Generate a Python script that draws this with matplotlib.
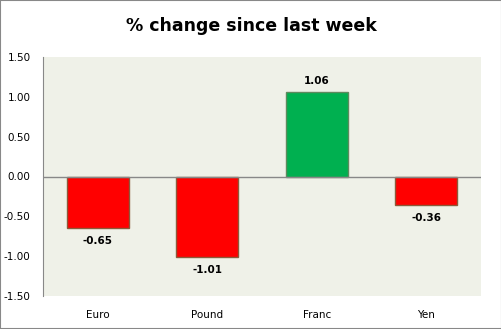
import matplotlib.pyplot as plt
import numpy as np

# data
currencies = ["Euro", "Pound", "Franc", "Yen"]
changes = [-0.65, -1.01, 1.06, -0.36]
yticks = [-1.5, -1.0, -0.5, 0.0, 0.5, 1.0, 1.5]

fig = plt.figure(figsize=(5.02, 3.29), dpi=100)
fig.patch.set_facecolor("white")
ax = fig.add_axes([43 / 502, 33 / 329, 438 / 502, 239 / 329])
ax.set_facecolor("#eff1e8")

x = np.arange(len(currencies))
colors = ["#00b050" if v > 0 else "#ff0000" for v in changes]
edges = ["#5e8a5e" if v > 0 else "#8b5a3a" for v in changes]
ax.bar(x, changes, width=0.57, color=colors, edgecolor=edges, linewidth=1, zorder=3)

for xi, v in zip(x, changes):
    off = 0.08 if v > 0 else -0.1
    ax.text(xi, v + off, f"{v:.2f}", ha="center", va="bottom" if v > 0 else "top",
            fontsize=7.5, fontweight="bold", color="black")

ax.set_xlim(-0.5, len(currencies) - 0.5)
ax.set_ylim(-1.5, 1.5)
ax.set_yticks(yticks)
ax.set_yticklabels([f"{t:.2f}" for t in yticks], fontsize=7.5)
ax.set_xticks(x)
ax.set_xticklabels(currencies, fontsize=7.5)
ax.tick_params(axis="x", length=0, pad=10)
ax.tick_params(axis="y", length=0, pad=9)
ax.axhline(0, color="#888888", linewidth=1, zorder=4)
for s in ["top", "right", "bottom"]:
    ax.spines[s].set_visible(False)
ax.spines["left"].set_color("#888888")

fig.text(0.5, 1 - 26 / 329, "% change since last week", ha="center", va="center",
         fontsize=12.5, fontweight="bold")

# outer border
fig.add_artist(plt.Rectangle((0, 0), 1, 1, transform=fig.transFigure, fill=False,
                             edgecolor="#888888", linewidth=1.5))

fig.savefig("out.png", dpi=100)
